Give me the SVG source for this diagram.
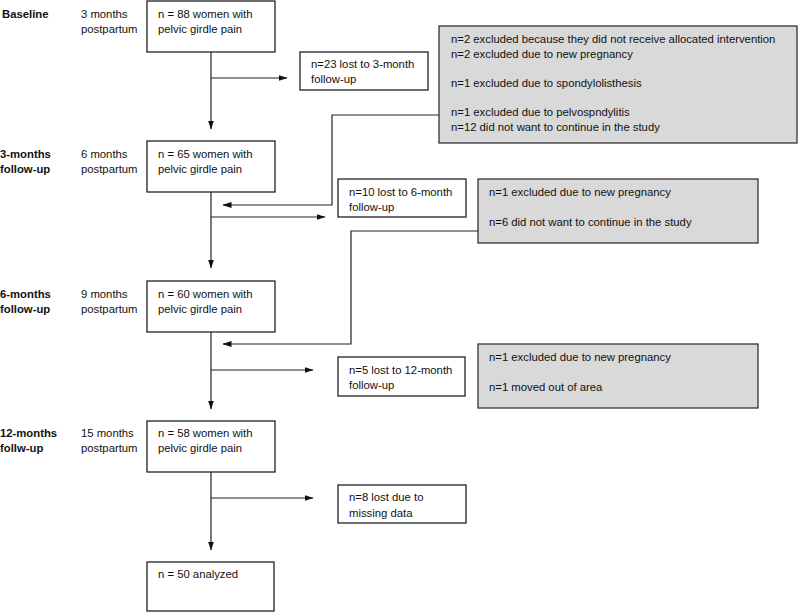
<svg xmlns="http://www.w3.org/2000/svg" width="798" height="613" viewBox="0 0 798 613">
<defs>
<marker id="ah" markerWidth="9" markerHeight="7" refX="8.5" refY="3.5" orient="auto" markerUnits="userSpaceOnUse"><path d="M0,0.5 L9,3.5 L0,6.5 Z" fill="#111"/></marker>
</defs>
<style>
text{font-family:"Liberation Sans",Arial,sans-serif;font-size:11.3px;fill:#111}
.b{font-weight:bold}
.box{fill:#fff;stroke:#222;stroke-width:1.3}
.gbox{fill:#d9d9d9;stroke:#333;stroke-width:1.3}
.c{fill:none;stroke:#222;stroke-width:1.2}
.a{marker-end:url(#ah)}
</style>
<rect width="798" height="613" fill="#fff"/>
<g id="labels">
<text class="b" x="2" y="18">Baseline</text>
<text x="81" y="18">3 months</text><text x="81" y="33">postpartum</text>
<text class="b" x="0" y="158">3-months</text><text class="b" x="0" y="173">follow-up</text>
<text x="81" y="158">6 months</text><text x="81" y="173">postpartum</text>
<text class="b" x="0" y="298">6-months</text><text class="b" x="0" y="313">follow-up</text>
<text x="81" y="298">9 months</text><text x="81" y="313">postpartum</text>
<text class="b" x="0" y="437">12-months</text><text class="b" x="0" y="452">follw-up</text>
<text x="81" y="437">15 months</text><text x="81" y="452">postpartum</text>
</g>
<g id="connectors">
<path class="c a" d="M211,52 V129"/>
<path class="c a" d="M211,78 H287"/>
<path class="c a" d="M211,192 V268"/>
<path class="c a" d="M211,217 H325"/>
<path class="c a" d="M211,332 V409"/>
<path class="c a" d="M211,370 H313"/>
<path class="c a" d="M211,472 V550"/>
<path class="c a" d="M211,498 H313"/>
<path class="c a" d="M439,115 H332 V205 H223"/>
<path class="c a" d="M478,231 H351 V344 H223"/>
</g>
<g id="n1"><rect class="box" x="147" y="1" width="128" height="51"/><text x="158" y="18">n = 88 women with</text><text x="158" y="33">pelvic girdle pain</text></g>
<g id="n2"><rect class="box" x="147" y="141" width="128" height="51"/><text x="158" y="158">n = 65 women with</text><text x="158" y="173">pelvic girdle pain</text></g>
<g id="n3"><rect class="box" x="147" y="281" width="128" height="51"/><text x="158" y="298">n = 60 women with</text><text x="158" y="313">pelvic girdle pain</text></g>
<g id="n4"><rect class="box" x="147" y="421" width="128" height="51"/><text x="158" y="437">n = 58 women with</text><text x="158" y="452">pelvic girdle pain</text></g>
<g id="n5"><rect class="box" x="147" y="562" width="127" height="49"/><text x="158" y="578">n = 50 analyzed</text></g>
<g id="l1"><rect class="box" x="300" y="52" width="128" height="38"/><text x="311" y="68">n=23 lost to 3-month</text><text x="311" y="83">follow-up</text></g>
<g id="l2"><rect class="box" x="338" y="179" width="128" height="38"/><text x="349" y="196">n=10 lost to 6-month</text><text x="349" y="211">follow-up</text></g>
<g id="l3"><rect class="box" x="338" y="357" width="127" height="39"/><text x="349" y="374">n=5 lost to 12-month</text><text x="349" y="389">follow-up</text></g>
<g id="l4"><rect class="box" x="338" y="485" width="128" height="38"/><text x="349" y="501">n=8 lost due to</text><text x="349" y="517">missing data</text></g>
<g id="g1"><rect class="gbox" x="439" y="26" width="358" height="117"/>
<text x="451" y="43">n=2 excluded because they did not receive allocated intervention</text>
<text x="451" y="58">n=2 excluded due to new pregnancy</text>
<text x="451" y="87">n=1 excluded due to spondylolisthesis</text>
<text x="451" y="116">n=1 excluded due to pelvospndylitis</text>
<text x="451" y="131">n=12 did not want to continue in the study</text></g>
<g id="g2"><rect class="gbox" x="478" y="179" width="280" height="64"/>
<text x="489" y="196">n=1 excluded due to new pregnancy</text>
<text x="489" y="226">n=6 did not want to continue in the study</text></g>
<g id="g3"><rect class="gbox" x="478" y="344" width="280" height="64"/>
<text x="489" y="361">n=1 excluded due to new pregnancy</text>
<text x="489" y="391">n=1 moved out of area</text></g>
</svg>
